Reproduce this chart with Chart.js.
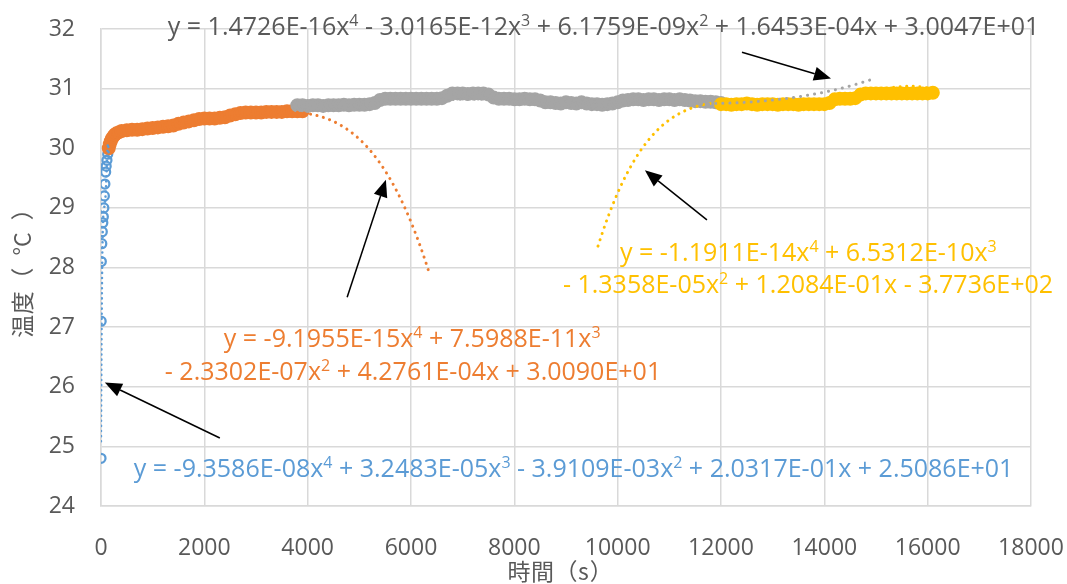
<!DOCTYPE html>
<html>
<head>
<meta charset="utf-8">
<script src="https://cdn.jsdelivr.net/npm/chart.js@4/dist/chart.umd.min.js"></script>
<style>
  html, body { margin: 0; padding: 0; background: #ffffff; }
  #wrap { width: 1067px; height: 584px; position: relative; }
</style>
</head>
<body>
<div id="wrap"><canvas id="chart" width="1067" height="584"></canvas></div>
<script>
// ---- measured temperature logs (time in s, temperature in °C) ----
const blueTime = [0, 3, 6, 15, 25, 35, 45, 55, 65, 75, 90, 100, 115, 130, 150];
const blueTemp = [24.8, 27.1, 28.1, 28.4, 28.6, 28.75, 28.85, 29.0, 29.2, 29.4, 29.6, 29.7, 29.8, 29.9, 30.0];

const orangeTime = [150, 170, 190, 210, 240, 270, 300, 350, 400, 500, 600, 700, 800, 900, 1000,
  1100, 1200, 1300, 1400, 1500, 1600, 1700, 1800, 1900, 2000, 2100, 2200, 2300, 2400, 2500,
  2600, 2700, 2800, 2900, 3000, 3100, 3200, 3300, 3400, 3500, 3600, 3700, 3800, 3900];
const orangeTemp = [30.0, 30.07, 30.12, 30.16, 30.2, 30.23, 30.25, 30.27, 30.29, 30.3, 30.31, 30.31, 30.32, 30.33, 30.34,
  30.35, 30.36, 30.37, 30.38, 30.41, 30.43, 30.45, 30.47, 30.49, 30.5, 30.5, 30.5, 30.51, 30.52, 30.55,
  30.57, 30.59, 30.6, 30.6, 30.6, 30.6, 30.61, 30.61, 30.61, 30.61, 30.62, 30.62, 30.62, 30.62];

const grayTime = [3800, 3900, 4000, 4100, 4200, 4300, 4400, 4500, 4600, 4700, 4800, 4900, 5000, 5100, 5200,
  5300, 5400, 5500, 5600, 5700, 5800, 5900, 6000, 6100, 6200, 6300, 6400, 6500, 6600, 6700,
  6800, 6900, 7000, 7100, 7200, 7300, 7400, 7500, 7600, 7700, 7800, 7900, 8000, 8100, 8200,
  8300, 8400, 8500, 8600, 8700, 8800, 8900, 9000, 9100, 9200, 9300, 9400, 9500, 9600, 9700,
  9800, 9900, 10000, 10100, 10200, 10300, 10400, 10500, 10600, 10700, 10800, 10900, 11000, 11100, 11200,
  11300, 11400, 11500, 11600, 11700, 11800, 11900, 12000];
const grayTemp = [30.72, 30.72, 30.71, 30.72, 30.72, 30.71, 30.72, 30.72, 30.72, 30.73, 30.72, 30.73, 30.73, 30.73, 30.74,
  30.76, 30.81, 30.83, 30.83, 30.83, 30.83, 30.83, 30.83, 30.83, 30.83, 30.83, 30.83, 30.83, 30.84, 30.88,
  30.92, 30.92, 30.92, 30.91, 30.92, 30.92, 30.92, 30.9, 30.85, 30.83, 30.83, 30.83, 30.82, 30.82, 30.83,
  30.82, 30.82, 30.8, 30.77, 30.77, 30.76, 30.75, 30.77, 30.76, 30.75, 30.77, 30.75, 30.74, 30.74, 30.73,
  30.74, 30.75, 30.77, 30.8, 30.81, 30.82, 30.82, 30.81, 30.82, 30.82, 30.81, 30.82, 30.82, 30.81, 30.82,
  30.81, 30.8, 30.79, 30.79, 30.78, 30.78, 30.77, 30.76];

const yellowTime = [12000, 12100, 12200, 12300, 12400, 12500, 12600, 12700, 12800, 12900, 13000, 13100, 13200, 13300,
  13400, 13500, 13600, 13700, 13800, 13900, 14000, 14100, 14200, 14300, 14400, 14500, 14600, 14700,
  14800, 14900, 15000, 15100, 15200, 15300, 15400, 15500, 15600, 15700, 15800, 15900, 16000, 16100];
const yellowTemp = [30.74, 30.74, 30.73, 30.74, 30.74, 30.75, 30.74, 30.73, 30.74, 30.74, 30.74, 30.73, 30.74, 30.74,
  30.74, 30.73, 30.74, 30.74, 30.74, 30.74, 30.74, 30.76, 30.82, 30.83, 30.83, 30.83, 30.84, 30.9,
  30.92, 30.92, 30.92, 30.92, 30.92, 30.92, 30.92, 30.92, 30.92, 30.92, 30.92, 30.92, 30.92, 30.93];

// ---- 4th-order polynomial trendlines: [x^4, x^3, x^2, x, const] ----
const blueCoef   = [-9.3586E-08, 3.2483E-05, -3.9109E-03, 2.0317E-01, 2.5086E+01];
const orangeCoef = [-9.1955E-15, 7.5988E-11, -2.3302E-07, 4.2761E-04, 3.0090E+01];
const grayCoef   = [1.4726E-16, -3.0165E-12, 6.1759E-09, 1.6453E-04, 3.0047E+01];
const yellowCoef = [-1.1911E-14, 6.5312E-10, -1.3358E-05, 1.2084E-01, -3.7736E+02];

// time span over which each trendline is drawn (data span plus forecast)
const blueTrendSpan   = [0, 150];
const orangeTrendSpan = [150, 6350];
const grayTrendSpan   = [3800, 15000];
const yellowTrendSpan = [9620, 16100];

// axis ticks and titles
const xTicks = [0, 2000, 4000, 6000, 8000, 10000, 12000, 14000, 16000, 18000];
const yTicks = [24, 25, 26, 27, 28, 29, 30, 31, 32];
const xTitle = ['時', '間', '（', 's', '）'];
const yTitle = ['温', '度', '（', '°C', '）'];

// ---- styling ----
const BLUE = '#5B9BD5', ORANGE = '#ED7D31', GRAY = '#A5A5A5', YELLOW = '#FFC000';
const TEXT = '#595959', GRID = '#D9D9D9';
const FONT = "'Open Sans', 'Liberation Sans', sans-serif";
const CJK = "'Noto Sans CJK JP', 'Noto Sans CJK SC', sans-serif";
const TITLE_SIZE = 23, TITLE_CELL = 23.5;

function poly(c, x) { return (((c[0] * x + c[1]) * x + c[2]) * x + c[3]) * x + c[4]; }
function trendPoints(c, span) {
  const pts = [];
  const n = 240;
  for (let i = 0; i <= n; i++) {
    const x = span[0] + (span[1] - span[0]) * i / n;
    pts.push({ x: x, y: poly(c, x) });
  }
  return pts;
}
function pairs(t, v) { return t.map((x, i) => ({ x: x, y: v[i] })); }

// "9.3586E-08" style number
function sci(v) {
  let e = Math.floor(Math.log10(Math.abs(v)));
  let m = (Math.abs(v) / Math.pow(10, e)).toFixed(4);
  if (m === '10.0000') { m = '1.0000'; e += 1; }
  return m + 'E' + (e < 0 ? '-' : '+') + String(Math.abs(e)).padStart(2, '0');
}
// equation split into lines of {text, sup} runs; breakAfter = index of last term on line 1
function equationRuns(c, breakAfter) {
  const pw = [4, 3, 2, 1, 0];
  const lines = [[]];
  c.forEach((v, i) => {
    let txt;
    if (i === 0) txt = 'y = ' + (v < 0 ? '-' : '') + sci(v);
    else {
      const lead = (lines[lines.length - 1].length === 0) ? '' : ' ';
      txt = lead + (v < 0 ? '-' : '+') + ' ' + sci(v);
    }
    if (pw[i] >= 1) txt += 'x';
    const line = lines[lines.length - 1];
    line.push({ text: txt, sup: false });
    if (pw[i] >= 2) line.push({ text: String(pw[i]), sup: true });
    if (breakAfter !== null && i === breakAfter) lines.push([]);
  });
  return lines;
}

// equation labels: left edge / baseline of each line in axis units
const equationLabels = [
  { coef: grayCoef, color: TEXT, breakAfter: null, at: [[1293, 31.893]] },
  { coef: yellowCoef, color: YELLOW, breakAfter: 1, at: [[10044, 28.107], [8940, 27.571]] },
  { coef: orangeCoef, color: ORANGE, breakAfter: 1, at: [[2377, 26.672], [1235, 26.114]] },
  { coef: blueCoef, color: BLUE, breakAfter: null, at: [[635, 24.494]] }
];
// callout arrows: [tail, tip] in axis units
const callouts = [
  [[12406, 31.61], [14129, 31.17]],
  [[4764, 27.50], [5514, 29.47]],
  [[11728, 28.80], [10527, 29.63]],
  [[2300, 25.14], [74, 26.07]]
];

// axis title laid out in full-width cells: single ASCII letters take half a cell,
// the two-letter unit takes two cells
function cellWidth(part) {
  if (part.length > 1) return TITLE_CELL * 2;
  return /[\x20-\x7e]/.test(part) ? TITLE_CELL / 2 : TITLE_CELL;
}
function drawCellText(ctx, parts, cx, cy) {
  const total = parts.reduce((s, p) => s + cellWidth(p), 0);
  let x = cx - total / 2;
  ctx.textAlign = 'center';
  ctx.textBaseline = 'middle';
  parts.forEach(p => {
    const w = cellWidth(p);
    ctx.fillText(p, x + w / 2, cy);
    x += w;
  });
}

const annotationPlugin = {
  id: 'equationsAndCallouts',
  afterDraw(chart) {
    const ctx = chart.ctx, xs = chart.scales.x, ys = chart.scales.y, area = chart.chartArea;
    ctx.save();
    // axis titles
    ctx.fillStyle = TEXT;
    ctx.font = TITLE_SIZE + 'px ' + CJK;
    drawCellText(ctx, xTitle, (area.left + area.right) / 2 - 6, 571);
    ctx.save();
    ctx.translate(22, (area.top + area.bottom) / 2);
    ctx.rotate(-Math.PI / 2);
    drawCellText(ctx, yTitle, 0, 0);
    ctx.restore();

    // equations
    ctx.textBaseline = 'alphabetic';
    ctx.textAlign = 'left';
    equationLabels.forEach(lab => {
      const lines = equationRuns(lab.coef, lab.breakAfter);
      lines.forEach((runs, li) => {
        let px = xs.getPixelForValue(lab.at[li][0]);
        const py = ys.getPixelForValue(lab.at[li][1]);
        ctx.fillStyle = lab.color;
        runs.forEach(r => {
          if (r.sup) {
            ctx.font = '16px ' + FONT;
            ctx.fillText(r.text, px, py - 9);
          } else {
            ctx.font = '25px ' + FONT;
            ctx.fillText(r.text, px, py);
          }
          px += ctx.measureText(r.text).width;
        });
      });
    });
    // arrows
    ctx.strokeStyle = '#000000';
    ctx.fillStyle = '#000000';
    ctx.lineWidth = 1.5;
    callouts.forEach(([tail, tip]) => {
      const x0 = xs.getPixelForValue(tail[0]), y0 = ys.getPixelForValue(tail[1]);
      const x1 = xs.getPixelForValue(tip[0]), y1 = ys.getPixelForValue(tip[1]);
      const ang = Math.atan2(y1 - y0, x1 - x0);
      const len = 17, half = 7;
      const bx = x1 - len * Math.cos(ang), by = y1 - len * Math.sin(ang);
      ctx.beginPath();
      ctx.moveTo(x0, y0);
      ctx.lineTo(bx, by);
      ctx.stroke();
      ctx.beginPath();
      ctx.moveTo(x1, y1);
      ctx.lineTo(bx + half * Math.sin(ang), by - half * Math.cos(ang));
      ctx.lineTo(bx - half * Math.sin(ang), by + half * Math.cos(ang));
      ctx.closePath();
      ctx.fill();
    });
    ctx.restore();
  }
};

function markerSet(label, t, v, color, order, hollow) {
  return {
    label: label, data: pairs(t, v), order: order, showLine: false,
    pointStyle: 'circle',
    pointRadius: hollow ? 4.5 : 6,
    pointBorderWidth: hollow ? 2.25 : 2,
    borderColor: color, pointBorderColor: color,
    backgroundColor: hollow ? 'rgba(255,255,255,0)' : color,
    pointBackgroundColor: hollow ? 'rgba(255,255,255,0)' : color,
    pointHoverRadius: 0
  };
}
function trendSet(label, coef, span, color, width, gap) {
  return {
    label: label, data: trendPoints(coef, span), order: 0, showLine: true,
    borderColor: color, borderWidth: width, borderDash: [0.1, gap],
    borderCapStyle: 'round', pointRadius: 0, pointHoverRadius: 0, fill: false, tension: 0
  };
}

// keep the plot frame fixed: no extra room for overhanging edge labels
function noEdgePadding(s) {
  s.paddingLeft = 0; s.paddingRight = 0; s.paddingTop = 0; s.paddingBottom = 0;
}

Chart.defaults.font.family = FONT;
Chart.defaults.color = TEXT;

new Chart(document.getElementById('chart'), {
  type: 'scatter',
  data: {
    datasets: [
      trendSet('blue trend', blueCoef, blueTrendSpan, BLUE, 2.5, 5),
      trendSet('orange trend', orangeCoef, orangeTrendSpan, ORANGE, 3, 6.5),
      trendSet('gray trend', grayCoef, grayTrendSpan, GRAY, 3, 7),
      trendSet('yellow trend', yellowCoef, yellowTrendSpan, YELLOW, 3, 6.5),
      markerSet('yellow', yellowTime, yellowTemp, YELLOW, 1, false),
      markerSet('gray', grayTime, grayTemp, GRAY, 2, false),
      markerSet('orange', orangeTime, orangeTemp, ORANGE, 3, false),
      markerSet('blue', blueTime, blueTemp, BLUE, 4, true)
    ]
  },
  options: {
    responsive: false,
    animation: false,
    devicePixelRatio: 1,
    layout: { padding: { left: 0, right: 36, top: 29, bottom: 0 } },
    plugins: { legend: { display: false }, tooltip: { enabled: false } },
    scales: {
      x: {
        type: 'linear', min: xTicks[0], max: xTicks[xTicks.length - 1],
        afterBuildTicks(s) { s.ticks = xTicks.map(v => ({ value: v })); },
        ticks: { color: TEXT, font: { family: FONT, size: 23 }, padding: 29, maxRotation: 0, autoSkip: false,
                 callback: v => String(v) },
        grid: { color: GRID, lineWidth: 1.5, drawTicks: false },
        border: { color: GRID, width: 1.5 },
        title: { display: false },
        afterFit(s) { s.height = 78; noEdgePadding(s); }
      },
      y: {
        type: 'linear', min: yTicks[0], max: yTicks[yTicks.length - 1],
        afterBuildTicks(s) { s.ticks = yTicks.map(v => ({ value: v })); },
        ticks: { color: TEXT, font: { family: FONT, size: 23 }, padding: 26, callback: v => String(v) },
        grid: { color: GRID, lineWidth: 1.5, drawTicks: false },
        border: { color: GRID, width: 1.5 },
        title: { display: false },
        afterFit(s) { s.width = 101; noEdgePadding(s); }
      }
    }
  },
  plugins: [annotationPlugin]
});
</script>
</body>
</html>
